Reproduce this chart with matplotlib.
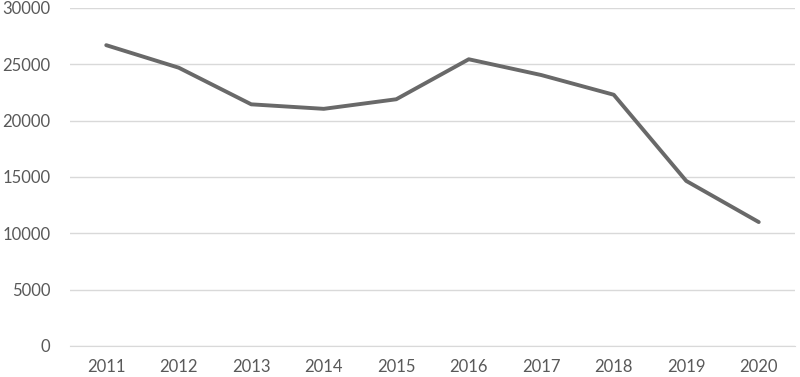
import matplotlib.pyplot as plt

years = ["2011", "2012", "2013", "2014", "2015", "2016", "2017", "2018", "2019", "2020"]
values = [26700, 24700, 21450, 21050, 21900, 25450, 24050, 22300, 14650, 11000]
yticks = [0, 5000, 10000, 15000, 20000, 25000, 30000]

plt.rcParams['font.family'] = ['Lato', 'DejaVu Sans']

fig = plt.figure(figsize=(8, 3.77), dpi=100)
ax = fig.add_axes([70 / 800, 1 - 346 / 377, 725 / 800, 338 / 377])

x = list(range(len(years)))
ax.plot(x, values, color='#696969', linewidth=2.8, solid_capstyle='round', solid_joinstyle='round', zorder=3)

ax.set_xlim(-0.5, len(years) - 0.5)
ax.set_ylim(0, 30000)
ax.set_yticks(yticks)
ax.set_xticks(x)
ax.set_xticklabels(years)
ax.grid(axis='y', color='#d9d9d9', linewidth=1.0)
ax.set_axisbelow(True)
for side in ['top', 'right', 'left']:
    ax.spines[side].set_visible(False)
ax.spines['bottom'].set_color('#d9d9d9')
ax.tick_params(axis='both', length=0, colors='#595959', labelsize=12)
ax.tick_params(axis='y', pad=14)
ax.tick_params(axis='x', pad=9)

fig.savefig('out.png', dpi=100)
